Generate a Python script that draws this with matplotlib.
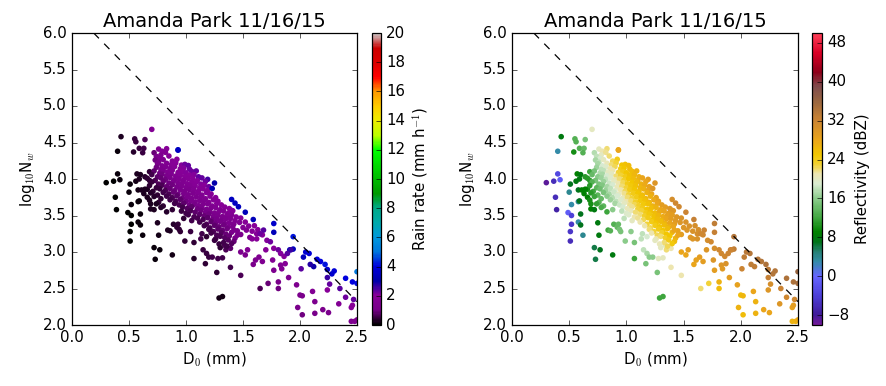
import numpy as np
import matplotlib
matplotlib.use("Agg")
import matplotlib.pyplot as plt
from matplotlib.colors import LinearSegmentedColormap

plt.style.use("classic")

title = "Amanda Park 11/16/15"

# sparse points, mostly small drops (left / lower part of the cloud)
sparse_d0 = [0.30, 0.365, 0.40, 0.43, 0.40, 0.42, 0.38, 0.39, 0.50, 0.51, 0.49, 0.52, 0.52, 0.51, 0.51, 0.52,
             0.55, 0.56, 0.54, 0.59, 0.63, 0.64, 0.62, 0.56, 0.57, 0.60, 0.59, 0.58, 0.58, 0.59, 0.60, 0.58,
             0.60, 0.62, 0.61, 0.63, 0.66, 0.68, 0.68, 0.64, 0.66, 0.69, 0.69, 0.72, 0.72, 0.73, 0.77, 0.75,
             0.76, 0.83, 0.88, 0.89, 0.84, 0.86, 0.92, 0.93, 0.94, 0.95, 0.99, 1.04, 1.07, 1.07, 1.13, 1.14,
             1.15, 1.17, 1.18, 1.20, 1.23, 1.27, 1.28, 1.29, 1.32, 1.32, 1.34, 1.35, 1.39, 1.48, 1.39, 0.70,
             0.93, 1.40]
sparse_nw = [3.95, 3.97, 4.38, 4.58, 4.07, 3.99, 3.75, 3.58, 3.82, 3.93, 3.54, 3.50, 3.38, 3.28, 3.15, 3.65,
             4.55, 4.51, 4.37, 4.42, 4.42, 4.54, 4.36, 3.97, 4.07, 4.06, 4.00, 3.85, 3.69, 3.70, 3.52, 3.41,
             3.37, 3.23, 3.85, 3.80, 3.86, 3.98, 4.10, 4.03, 3.75, 3.66, 3.59, 3.58, 3.06, 2.90, 3.03, 3.40,
             3.23, 3.55, 2.96, 3.38, 3.30, 3.29, 3.34, 3.38, 3.31, 3.28, 3.15, 3.28, 3.13, 2.91, 3.18, 3.25,
             3.03, 2.84, 2.98, 2.93, 2.93, 2.72, 2.91, 2.37, 2.39, 2.92, 3.09, 3.03, 2.79, 2.68, 3.05, 4.68,
             4.40, 3.57]
sparse_rr = [0.02, 0.05, 0.15, 0.25, 0.08, 0.08, 0.05, 0.04, 0.12, 0.15, 0.06, 0.07, 0.06, 0.05, 0.04, 0.10,
             0.50, 0.50, 0.35, 0.50, 0.60, 0.70, 0.50, 0.20, 0.25, 0.30, 0.25, 0.20, 0.15, 0.15, 0.15, 0.12,
             0.12, 0.10, 0.25, 0.25, 0.30, 0.40, 0.45, 0.35, 0.30, 0.30, 0.25, 0.30, 0.15, 0.12, 0.15, 0.25,
             0.20, 0.35, 0.20, 0.35, 0.30, 0.30, 0.40, 0.40, 0.40, 0.40, 0.40, 0.50, 0.45, 0.35, 0.55, 0.60,
             0.50, 0.40, 0.50, 0.50, 0.55, 0.45, 0.60, 0.20, 0.20, 0.60, 0.70, 0.70, 0.60, 0.70, 0.80, 1.70,
             3.50, 3.00]
sparse_dbz = [-9, -6, 3, 8, -3, -1, -6, -7, 4, 7, -1, -4, -5, -5, -6, 3,
              13, 13, 10, 13, 14, 15, 13, 8, 9, 8, 8, 7, 4, 7, 7, 3,
              7, 4, 9, 9, 10, 11, 12, 11, 9, 10, 9, 8, 6, 6, 7, 8,
              8, 12, 8, 13, 12, 13, 14, 14, 15, 15, 16, 16, 15, 12, 18, 18,
              18, 15, 17, 16, 16, 15, 20, 12, 12, 20, 20, 22, 21, 21, 21, 20,
              28, 30]

# dense core of the distribution (one line per log10 Nw level)
core_d0 = [0.76, 0.79, 0.83, 0.93,
           0.72, 0.78, 0.82,
           0.74, 0.77, 0.85,
           0.73, 0.76, 0.80, 0.88, 0.92,
           0.75, 0.79, 0.83, 0.87, 0.91, 0.96, 0.99, 1.02,
           0.74, 0.78, 0.82, 0.86, 0.90, 0.95, 0.98, 1.03,
           0.72, 0.77, 0.80, 0.84, 0.88, 0.93, 0.97, 1.00, 1.05, 1.09,
           0.70, 0.75, 0.79, 0.83, 0.87, 0.91, 0.95, 0.99, 1.03, 1.07, 1.11,
           0.66, 0.73, 0.78, 0.82, 0.86, 0.90, 0.94, 0.98, 1.02, 1.06, 1.10, 1.14, 1.19,
           0.70, 0.76, 0.80, 0.85, 0.89, 0.93, 0.97, 1.01, 1.05, 1.09, 1.13, 1.17, 1.25,
           0.68, 0.74, 0.79, 0.83, 0.88, 0.92, 0.96, 1.00, 1.04, 1.08, 1.12, 1.16, 1.20,
           0.64, 0.71, 0.77, 0.82, 0.86, 0.90, 0.95, 0.99, 1.03, 1.07, 1.11, 1.15, 1.19, 1.23,
           0.69, 0.75, 0.80, 0.85, 0.89, 0.93, 0.98, 1.02, 1.06, 1.10, 1.14, 1.18, 1.22,
           0.72, 0.78, 0.83, 0.88, 0.92, 0.97, 1.01, 1.05, 1.09, 1.13, 1.17, 1.21, 1.26,
           0.68, 0.76, 0.86, 0.91, 0.95, 1.00, 1.04, 1.08, 1.12, 1.16, 1.20, 1.24, 1.28, 1.40,
           0.74, 0.80, 0.90, 0.94, 0.98, 1.03, 1.07, 1.11, 1.15, 1.19, 1.23, 1.27, 1.31, 1.43,
           0.78, 0.88, 0.97, 1.01, 1.05, 1.10, 1.14, 1.18, 1.22, 1.26, 1.30, 1.34, 1.38, 1.46,
           0.96, 1.00, 1.04, 1.08, 1.13, 1.17, 1.21, 1.25, 1.29, 1.33, 1.37, 1.41, 1.52,
           1.02, 1.07, 1.12, 1.16, 1.20, 1.24, 1.28, 1.32, 1.36, 1.40, 1.44,
           0.98, 1.05, 1.10, 1.15, 1.19, 1.23, 1.27, 1.31, 1.35, 1.39, 1.43, 1.48, 1.59,
           1.12, 1.18, 1.22, 1.26, 1.30, 1.34, 1.38, 1.42, 1.47, 1.52,
           1.16, 1.21, 1.25, 1.29, 1.33, 1.37, 1.41, 1.50, 1.55, 1.60,
           1.20, 1.24, 1.28, 1.32, 1.36, 1.45, 1.53, 1.58, 1.63,
           1.22, 1.27, 1.31, 1.35, 1.40, 1.48, 1.62, 1.67,
           1.18, 1.26, 1.30, 1.34, 1.38, 1.43, 1.56,
           1.25, 1.33, 1.37, 1.42,
           1.29, 1.36, 1.40,
           1.30]
core_nw = [4.41, 4.38, 4.415, 4.395,
           4.36, 4.33, 4.365,
           4.31, 4.28, 4.315,
           4.26, 4.23, 4.265, 4.245, 4.27,
           4.21, 4.18, 4.215, 4.195, 4.22, 4.19, 4.20, 4.185,
           4.16, 4.13, 4.165, 4.145, 4.17, 4.14, 4.15, 4.135,
           4.11, 4.08, 4.115, 4.095, 4.12, 4.09, 4.10, 4.085, 4.105, 4.11,
           4.06, 4.03, 4.065, 4.045, 4.07, 4.04, 4.05, 4.035, 4.055, 4.06, 4.03,
           4.01, 3.98, 4.015, 3.995, 4.02, 3.99, 4.00, 3.985, 4.005, 4.01, 3.98, 4.015, 3.995,
           3.96, 3.93, 3.965, 3.945, 3.97, 3.94, 3.95, 3.935, 3.955, 3.96, 3.93, 3.965, 3.945,
           3.91, 3.88, 3.915, 3.895, 3.92, 3.89, 3.90, 3.885, 3.905, 3.91, 3.88, 3.915, 3.895,
           3.86, 3.83, 3.865, 3.845, 3.87, 3.84, 3.85, 3.835, 3.855, 3.86, 3.83, 3.865, 3.845, 3.87,
           3.81, 3.78, 3.815, 3.795, 3.82, 3.79, 3.80, 3.785, 3.805, 3.81, 3.78, 3.815, 3.795,
           3.76, 3.73, 3.765, 3.745, 3.77, 3.74, 3.75, 3.735, 3.755, 3.76, 3.73, 3.765, 3.745,
           3.71, 3.68, 3.715, 3.695, 3.72, 3.69, 3.70, 3.685, 3.705, 3.71, 3.68, 3.715, 3.695, 3.72,
           3.66, 3.63, 3.665, 3.645, 3.67, 3.64, 3.65, 3.635, 3.655, 3.66, 3.63, 3.665, 3.645, 3.67,
           3.61, 3.58, 3.615, 3.595, 3.62, 3.59, 3.60, 3.585, 3.605, 3.61, 3.58, 3.615, 3.595, 3.62,
           3.56, 3.53, 3.565, 3.545, 3.57, 3.54, 3.55, 3.535, 3.555, 3.56, 3.53, 3.565, 3.545,
           3.51, 3.48, 3.515, 3.495, 3.52, 3.49, 3.50, 3.485, 3.505, 3.51, 3.48,
           3.46, 3.43, 3.465, 3.445, 3.47, 3.44, 3.45, 3.435, 3.455, 3.46, 3.43, 3.465, 3.445,
           3.41, 3.38, 3.415, 3.395, 3.42, 3.39, 3.40, 3.385, 3.405, 3.41,
           3.36, 3.33, 3.365, 3.345, 3.37, 3.34, 3.35, 3.335, 3.355, 3.36,
           3.31, 3.28, 3.315, 3.295, 3.32, 3.29, 3.30, 3.285, 3.305,
           3.26, 3.23, 3.265, 3.245, 3.27, 3.24, 3.25, 3.235,
           3.21, 3.18, 3.215, 3.195, 3.22, 3.19, 3.20,
           3.16, 3.13, 3.165, 3.145,
           3.11, 3.08, 3.115,
           3.06]
core_rr = [1.6, 1.8, 1.9, 3.5,
           0.9, 1.5, 1.7,
           1.3, 1.5, 1.8,
           1.0, 1.3, 1.5, 1.8, 2.0,
           1.2, 1.4, 1.6, 1.8, 2.0, 2.1, 2.2, 2.3,
           1.0, 1.3, 1.5, 1.6, 1.8, 2.0, 2.1, 2.2,
           0.8, 1.0, 1.3, 1.5, 1.6, 1.8, 2.0, 2.1, 2.2, 2.3,
           0.6, 0.8, 1.0, 1.3, 1.5, 1.6, 1.8, 1.9, 2.0, 2.1, 2.3,
           0.4, 0.7, 0.9, 1.0, 1.3, 1.5, 1.6, 1.7, 1.8, 2.0, 2.1, 2.3, 2.5,
           0.5, 0.7, 0.9, 1.0, 1.3, 1.4, 1.5, 1.7, 1.8, 2.0, 2.1, 2.2, 3.0,
           0.4, 0.5, 0.7, 0.9, 1.0, 1.2, 1.4, 1.5, 1.6, 1.8, 1.9, 2.0, 2.2,
           0.3, 0.4, 0.5, 0.7, 0.9, 1.0, 1.2, 1.3, 1.4, 1.6, 1.7, 1.8, 2.0, 3.2,
           0.35, 0.45, 0.55, 0.7, 0.9, 1.0, 1.2, 1.3, 1.4, 1.6, 1.7, 1.8, 2.0,
           0.35, 0.45, 0.55, 0.7, 0.85, 1.0, 1.2, 1.3, 1.4, 1.5, 1.7, 1.8, 2.0,
           0.3, 0.4, 0.55, 0.7, 0.85, 1.0, 1.2, 1.3, 1.4, 1.5, 1.7, 1.8, 2.0, 3.5,
           0.3, 0.4, 0.55, 0.7, 0.8, 0.95, 1.05, 1.3, 1.4, 1.5, 1.6, 1.8, 2.0, 3.5,
           0.35, 0.45, 0.6, 0.75, 0.85, 1.0, 1.2, 1.3, 1.4, 1.6, 1.7, 1.8, 2.0, 3.4,
           0.5, 0.6, 0.7, 0.85, 0.95, 1.05, 1.2, 1.4, 1.5, 1.6, 1.8, 1.9, 3.3,
           0.55, 0.65, 0.8, 0.9, 1.0, 1.1, 1.3, 1.4, 1.6, 1.7, 1.9,
           0.45, 0.55, 0.65, 0.7, 0.85, 0.95, 1.05, 1.2, 1.4, 1.5, 1.7, 1.9, 3.3,
           0.6, 0.7, 0.85, 0.95, 1.05, 1.2, 1.4, 1.5, 1.7, 1.9,
           0.6, 0.7, 0.8, 0.9, 1.0, 1.2, 1.3, 1.6, 1.8, 2.0,
           0.6, 0.7, 0.8, 0.9, 1.0, 1.3, 1.6, 1.8, 2.0,
           0.55, 0.65, 0.75, 0.9, 1.1, 1.3, 1.8, 2.0,
           0.45, 0.55, 0.65, 0.75, 0.9, 1.1, 1.5,
           0.5, 0.6, 0.75, 0.9,
           0.5, 0.6, 0.75,
           0.45]
core_dbz = [20, 21, 22, 28,
            17.5, 20, 21.5,
            18, 19, 22,
            17, 18, 20, 22.5, 24,
            17, 19, 20.5, 22, 23, 25, 25.5, 26,
            16.5, 18, 19.5, 21, 22.5, 24, 25, 26,
            15, 17.5, 18, 20, 21, 23, 24, 25, 26, 27,
            14, 16, 17, 19, 20, 22, 23, 24, 25.5, 26.5, 27,
            11, 15, 16.5, 18, 19.5, 21, 22, 23.5, 25, 26, 27, 28, 29,
            13, 15, 16.5, 18.5, 20, 21, 22.5, 24, 25, 26, 27, 28, 30,
            11, 13.5, 15.5, 17, 19, 20.5, 22, 23, 24.5, 25.5, 26.5, 27.5, 28.5,
            9, 12, 14.5, 16.5, 18, 19.5, 21, 22.5, 24, 25, 26, 27, 28, 30,
            11, 13.5, 15, 17, 18.5, 20, 21.5, 23, 24, 25, 26, 27, 28,
            12, 14, 16, 17.5, 19, 20.5, 22, 23, 24, 25.5, 26.5, 27, 28.5,
            10, 13, 16.5, 18, 19.5, 21, 22, 23.5, 24.5, 25.5, 26.5, 27.5, 28.5, 31,
            11.5, 13.5, 17, 18.5, 20, 21.5, 22.5, 23.5, 24.5, 25.5, 27, 28, 29, 31.5,
            12.5, 16, 19, 20.5, 21.5, 23, 24, 25, 26, 27, 28, 29, 30, 31.5,
            18, 19.5, 20.5, 22, 23, 24, 25.5, 26, 27.5, 28, 29, 30, 32,
            19.5, 21, 22, 23.5, 24.5, 25.5, 26.5, 27.5, 28.5, 29, 30,
            18, 20, 21.5, 22.5, 24, 25, 26, 27, 28, 29, 29.5, 30.5, 32.5,
            21, 23, 24, 25, 26, 27, 28, 29, 30, 30.5,
            21, 22.5, 24, 25, 26, 27, 28, 30, 30.5, 31,
            22, 23, 24, 25, 26, 28.5, 30, 30.5, 31,
            21, 22.5, 23.5, 25, 27, 29, 31, 31.5,
            19, 21, 22, 23.5, 25, 27, 29.5,
            20, 22, 24, 26,
            20.5, 22.5, 24.5,
            20]

# large-drop tail towards the lower right
tail_d0 = [1.77, 1.77, 1.94, 1.91, 1.94, 2.05, 2.03, 2.08, 2.15, 2.18, 2.24, 2.30, 2.40, 2.46, 2.50, 2.50,
           2.22, 2.28,
           1.68, 1.65, 1.71, 1.74, 1.70, 1.77, 1.81, 1.83, 1.86, 1.89, 1.87, 1.83, 1.84, 1.76, 1.77, 1.64,
           1.59, 1.61, 1.54, 1.48, 1.52, 1.67, 1.81, 1.81, 1.72, 1.65, 1.90, 1.97, 1.98, 2.02, 2.00, 2.02,
           2.01, 2.11, 2.13, 2.13, 2.20, 2.25, 2.24, 2.24, 2.26, 2.34, 2.35, 2.40, 2.45, 2.46, 2.45, 2.48,
           2.50, 2.47, 2.12, 2.09, 1.92, 1.58, 1.62, 1.42, 1.45]
tail_nw = [3.39, 3.27, 3.21, 3.03, 3.04, 3.00, 2.93, 2.98, 2.90, 2.87, 2.76, 2.74, 2.64, 2.59, 2.73, 2.57,
           2.83, 2.70,
           3.30, 3.25, 3.16, 3.14, 3.03, 3.05, 3.03, 2.98, 2.94, 2.98, 2.84, 2.82, 2.77, 2.89, 2.75, 2.93,
           2.83, 2.89, 3.03, 3.00, 2.96, 2.87, 2.59, 2.50, 2.57, 2.50, 2.65, 2.55, 2.24, 2.14, 2.41, 2.40,
           2.77, 2.46, 2.32, 2.16, 2.21, 2.17, 2.65, 2.48, 2.56, 2.29, 2.50, 2.38, 2.24, 2.27, 2.05, 2.05,
           2.07, 2.35, 2.80, 2.83, 3.03, 3.18, 3.18, 3.30, 3.23]
tail_rr = [3.6, 3.3, 4.2, 3.2, 3.4, 3.8, 3.4, 3.9, 4.0, 4.0, 3.7, 3.9, 4.0, 4.0, 5.0, 4.1,
           4.2, 3.7,
           2.4, 2.2, 2.1, 2.2, 1.8, 2.0, 2.2, 2.1, 2.1, 2.4, 1.8, 1.7, 1.6, 1.7, 1.4, 1.5,
           1.2, 1.4, 1.6, 1.3, 1.3, 1.5, 1.1, 1.0, 0.9, 0.7, 1.5, 1.4, 1.2, 1.0, 1.3, 1.3,
           2.4, 1.7, 1.4, 1.1, 1.3, 1.3, 2.6, 2.0, 2.3, 1.7, 2.4, 2.2, 1.9, 2.0, 1.4, 1.5,
           1.5, 2.3, 2.9, 2.8, 2.6, 1.8, 2.0, 1.3, 1.2]
tail_dbz = [33, 32.5, 34, 32.5, 33, 33.5, 33, 34, 34, 34, 33.5, 34, 34.5, 34.5, 36, 35,
            34.5, 34,
            32, 31.5, 31, 31.5, 30, 31, 31.5, 31.5, 31.5, 32, 30.5, 30, 29.5, 30, 29, 29,
            28, 28.5, 29, 28, 28, 29, 27, 26, 23, 22, 29, 28.5, 27, 26, 26, 26.5,
            32, 28, 27, 27, 28, 28, 32.5, 30, 31, 30, 32, 31.5, 28.5, 29, 27, 27,
            27.5, 31.5, 33, 33, 32, 30, 30.5, 28, 28]

# dashed reference line
ref_d0 = [0.19, 2.5]
ref_nw = [6.0, 2.32]

# reflectivity colour table (dBZ, colour)
dbz_levels = [-10, -8, -4, 0, 3, 5, 7, 9, 12, 16, 19, 21, 23, 25, 28, 32, 36, 39, 42, 46, 50]
dbz_colors = ["#731a99", "#401a99", "#4d40d9", "#6666ff", "#338ca6", "#268073", "#00731a", "#008000",
              "#40a640", "#8ccc8c", "#d9ebd1", "#ede6b3", "#f2d133", "#f2c700", "#eba61a", "#cc8533",
              "#996640", "#804d4d", "#8c001a", "#d90026", "#ff4059"]

d0 = np.concatenate([sparse_d0, core_d0, tail_d0])
nw = np.concatenate([sparse_nw, core_nw, tail_nw])
rr = np.concatenate([sparse_rr, core_rr, tail_rr])
dbz = np.concatenate([sparse_dbz, core_dbz, tail_dbz])

pos = [(v - dbz_levels[0]) / (dbz_levels[-1] - dbz_levels[0]) for v in dbz_levels]
dbz_cmap = LinearSegmentedColormap.from_list("refl", list(zip(pos, dbz_colors)))

W, H = 886, 386
fig = plt.figure(figsize=(W / 90, H / 90), dpi=90, facecolor="white")
ax1 = fig.add_axes([72 / W, 61 / H, 285 / W, 292 / H])
cax1 = fig.add_axes([372 / W, 61 / H, 9 / W, 292 / H])
ax2 = fig.add_axes([512 / W, 61 / H, 286 / W, 292 / H])
cax2 = fig.add_axes([812 / W, 61 / H, 10 / W, 292 / H])

sc1 = ax1.scatter(d0, nw, c=rr, cmap="nipy_spectral", vmin=0, vmax=20, s=20, edgecolors="none")
sc2 = ax2.scatter(d0, nw, c=dbz, cmap=dbz_cmap, vmin=-10, vmax=50, s=20, edgecolors="none")

for ax in (ax1, ax2):
    ax.plot(ref_d0, ref_nw, "k--", lw=1)
    ax.set_xlim(0, 2.5)
    ax.set_ylim(2, 6)
    ax.set_xticks(np.arange(0, 2.51, 0.5))
    ax.set_yticks(np.arange(2, 6.01, 0.5))
    ax.set_title(title, fontsize=15.6)
    ax.set_xlabel("D$_0$ (mm)")
    ax.set_ylabel("log$_{10}$N$_w$")

cb1 = fig.colorbar(sc1, cax=cax1, ticks=np.arange(0, 21, 2))
cb1.set_label("Rain rate (mm h$^{-1}$)")
cb2 = fig.colorbar(sc2, cax=cax2, ticks=np.arange(-8, 49, 8))
cb2.set_label("Reflectivity (dBZ)")

fig.savefig("out.png", dpi=90, facecolor="white")
